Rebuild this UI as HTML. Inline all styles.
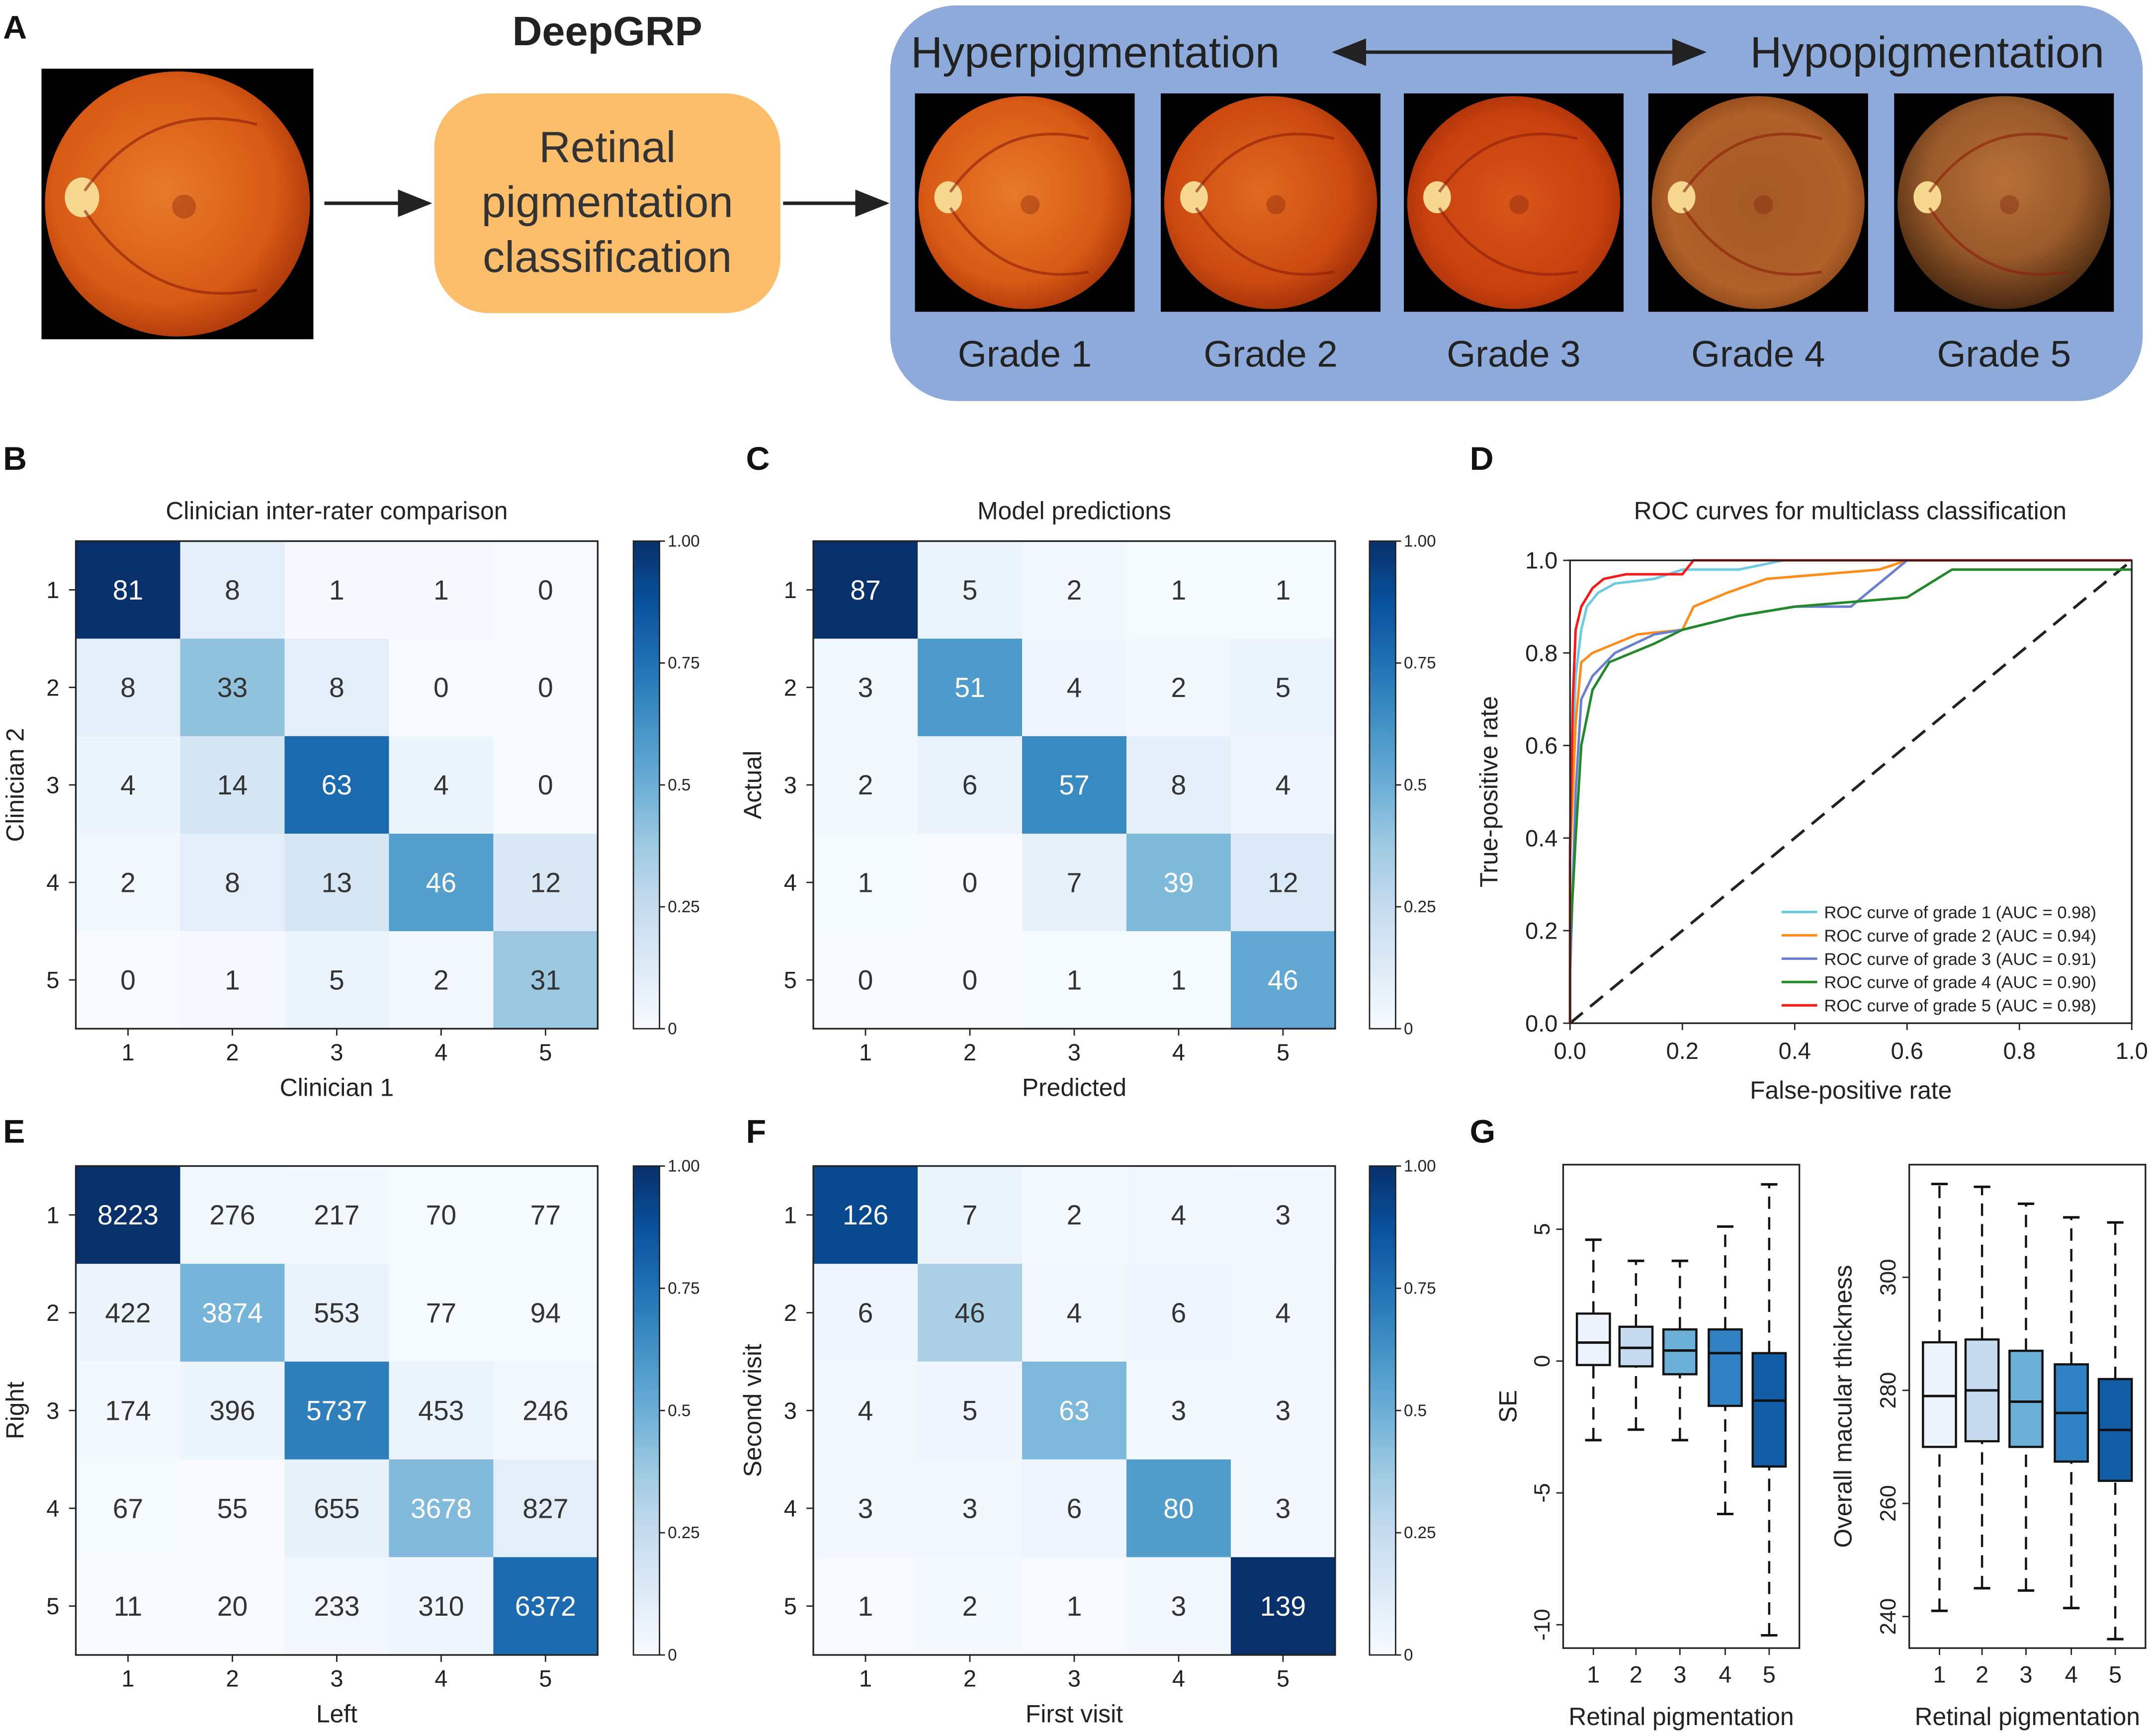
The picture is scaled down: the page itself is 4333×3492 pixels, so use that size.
<!DOCTYPE html>
<html><head><meta charset="utf-8"><style>
html,body{margin:0;padding:0;background:#fff}
svg{display:block;font-family:"Liberation Sans",Arial,sans-serif}
</style></head><body>
<svg id="fig" xmlns="http://www.w3.org/2000/svg" width="4333" height="3492" viewBox="0 0 1568 1264">
<defs>
<linearGradient id="cbar" x1="0" y1="1" x2="0" y2="0">
<stop offset="0" stop-color="#f7fbff"/><stop offset="0.125" stop-color="#deebf7"/><stop offset="0.25" stop-color="#c6dbef"/><stop offset="0.375" stop-color="#9ecae1"/><stop offset="0.5" stop-color="#6baed6"/><stop offset="0.625" stop-color="#4292c6"/><stop offset="0.75" stop-color="#2171b5"/><stop offset="0.875" stop-color="#08519c"/><stop offset="1" stop-color="#08306b"/>
</linearGradient>
<radialGradient id="f1" cx="0.45" cy="0.45" r="0.6"><stop offset="0" stop-color="#e87a2a"/><stop offset="0.7" stop-color="#d85a14"/><stop offset="1" stop-color="#a8340a"/></radialGradient>
<radialGradient id="f2" cx="0.45" cy="0.45" r="0.6"><stop offset="0" stop-color="#e06a20"/><stop offset="0.7" stop-color="#cc4a10"/><stop offset="1" stop-color="#9a2c08"/></radialGradient>
<radialGradient id="f3" cx="0.5" cy="0.5" r="0.6"><stop offset="0" stop-color="#d8561a"/><stop offset="0.7" stop-color="#c8400e"/><stop offset="1" stop-color="#962a08"/></radialGradient>
<radialGradient id="f4" cx="0.5" cy="0.5" r="0.6"><stop offset="0" stop-color="#a65a26"/><stop offset="0.7" stop-color="#b06028"/><stop offset="1" stop-color="#7a3a12"/></radialGradient>
<radialGradient id="f5" cx="0.5" cy="0.4" r="0.6"><stop offset="0" stop-color="#b87038"/><stop offset="0.6" stop-color="#9a5a2a"/><stop offset="1" stop-color="#4a2a12"/></radialGradient>
<marker id="ah" markerWidth="10" markerHeight="10" refX="9" refY="5" orient="auto"><path d="M0,1 L10,5 L0,9 z" fill="#222"/></marker>
<marker id="ahs" markerWidth="10" markerHeight="10" refX="1" refY="5" orient="auto"><path d="M10,1 L0,5 L10,9 z" fill="#222"/></marker>
</defs>
<g id="root"></g>
</svg>
<script>
// ---------- data ----------
const gradeLabels = ["1","2","3","4","5"];
const matB = [[81,8,1,1,0],[8,33,8,0,0],[4,14,63,4,0],[2,8,13,46,12],[0,1,5,2,31]];
const matC = [[87,5,2,1,1],[3,51,4,2,5],[2,6,57,8,4],[1,0,7,39,12],[0,0,1,1,46]];
const matE = [[8223,276,217,70,77],[422,3874,553,77,94],[174,396,5737,453,246],[67,55,655,3678,827],[11,20,233,310,6372]];
const matF = [[126,7,2,4,3],[6,46,4,6,4],[4,5,63,3,3],[3,3,6,80,3],[1,2,1,3,139]];
const cbTicks = [0,0.25,0.5,0.75,1.0];
const cbTickLabels = ["0","0.25","0.5","0.75","1.00"];
const rocTicks = [0,0.2,0.4,0.6,0.8,1.0];
const rocNames = ["ROC curve of grade 1 (AUC = 0.98)","ROC curve of grade 2 (AUC = 0.94)","ROC curve of grade 3 (AUC = 0.91)","ROC curve of grade 4 (AUC = 0.90)","ROC curve of grade 5 (AUC = 0.98)"];
const roc1 = [[0,0],[0,0.35],[0.005,0.6],[0.01,0.75],[0.02,0.85],[0.03,0.9],[0.05,0.93],[0.08,0.95],[0.15,0.96],[0.2,0.98],[0.3,0.98],[0.38,1.0],[1,1]];
const roc2 = [[0,0],[0,0.35],[0.01,0.65],[0.02,0.78],[0.04,0.8],[0.08,0.82],[0.12,0.84],[0.2,0.85],[0.22,0.9],[0.28,0.93],[0.35,0.96],[0.45,0.97],[0.55,0.98],[0.6,1.0],[1,1]];
const roc3 = [[0,0],[0,0.1],[0.01,0.5],[0.02,0.7],[0.04,0.75],[0.08,0.8],[0.15,0.84],[0.2,0.85],[0.3,0.88],[0.4,0.9],[0.5,0.9],[0.55,0.95],[0.6,1],[1,1]];
const roc4 = [[0,0],[0,0.17],[0.01,0.4],[0.02,0.6],[0.04,0.72],[0.07,0.78],[0.15,0.82],[0.2,0.85],[0.3,0.88],[0.4,0.9],[0.6,0.92],[0.68,0.98],[1,0.98]];
const roc5 = [[0,0],[0,0.38],[0.005,0.7],[0.01,0.85],[0.02,0.9],[0.04,0.94],[0.06,0.96],[0.1,0.97],[0.2,0.97],[0.22,1],[1,1]];
const seStats = [[-3.0,-0.15,0.7,1.8,4.6],[-2.6,-0.2,0.5,1.3,3.8],[-3.0,-0.5,0.4,1.2,3.8],[-5.8,-1.7,0.3,1.2,5.1],[-10.4,-4.0,-1.5,0.3,6.7]];
const seTicks = [5,0,-5,-10];
const mtStats = [[241,270,279,288.5,316.5],[245,271,280,289,316],[244.6,270,278,287,313],[241.5,267.4,276,284.6,310.6],[236,264,273,282,309.7]];
const mtTicks = [240,260,280,300];

const NS="http://www.w3.org/2000/svg";
const root=document.getElementById('root');
function el(tag,attrs,parent,text){const e=document.createElementNS(NS,tag);for(const k in attrs)e.setAttribute(k,attrs[k]);if(text!==undefined)e.textContent=text;(parent||root).appendChild(e);return e;}
const stops=[[0,[247,251,255]],[0.125,[222,235,247]],[0.25,[198,219,239]],[0.375,[158,202,225]],[0.5,[107,174,214]],[0.625,[66,146,198]],[0.75,[33,113,181]],[0.875,[8,81,156]],[1,[8,48,107]]];
function blues(t){t=Math.max(0,Math.min(1,t));for(let i=1;i<stops.length;i++){if(t<=stops[i][0]){const a=stops[i-1],b=stops[i];const f=(t-a[0])/(b[0]-a[0]);const c=a[1].map((v,j)=>Math.round(v+(b[1][j]-v)*f));return `rgb(${c})`;}}return 'rgb(8,48,107)';}

// ---------- Panel letters ----------
[["A",2,28],["B",2,342],["C",543,342],["D",1070,342],["E",2,832],["F",543,832],["G",1070,832]].forEach(p=>{
 const t=el('text',{x:p[1],y:p[2],'font-size':24,'font-weight':'bold',fill:'#111'},root,p[0]);
 
 
});

// ---------- Panel A ----------
const gA=el('g',{});


function fundus(x,y,w,h,grad,name){
 const g=el('g',{},gA);
 
 
 el('rect',{x:x,y:y,width:w,height:h,fill:'#000'},g);
 const cx=x+w/2,cy=y+h/2,r=Math.min(w,h)/2-2;
 el('circle',{cx:cx,cy:cy,r:r,fill:`url(#${grad})`},g);
 el('ellipse',{cx:cx-r*0.72,cy:cy-r*0.05,rx:r*0.13,ry:r*0.15,fill:'#f6d890'},g);
 el('circle',{cx:cx+r*0.05,cy:cy+r*0.02,r:r*0.09,fill:'rgba(120,30,10,0.35)'},g);
 el('path',{d:`M${cx-r*0.7},${cy-r*0.1} Q${cx-r*0.2},${cy-r*0.8} ${cx+r*0.6},${cy-r*0.6} M${cx-r*0.7},${cy+r*0.05} Q${cx-r*0.2},${cy+r*0.8} ${cx+r*0.6},${cy+r*0.65}`,stroke:'rgba(140,30,10,0.6)','stroke-width':2,fill:'none'},g);
}
fundus(30,50,198,197,'f1','input-fundus-image');
el('text',{x:442,y:33,'font-size':30,'font-weight':'bold','text-anchor':'middle',fill:'#222'},gA,'DeepGRP');
const ob=el('rect',{x:316,y:68,width:252,height:160,rx:40,fill:'#fdbe6b'},gA);


["Retinal","pigmentation","classification"].forEach((s,i)=>el('text',{x:442,y:118+i*40,'font-size':32,'text-anchor':'middle',fill:'#333'},gA,s));
el('line',{x1:236,y1:148,x2:312,y2:148,stroke:'#222','stroke-width':2.5,'marker-end':'url(#ah)'},gA);
el('line',{x1:570,y1:148,x2:645,y2:148,stroke:'#222','stroke-width':2.5,'marker-end':'url(#ah)'},gA);
const bp=el('rect',{x:648,y:4,width:912,height:288,rx:48,fill:'#8eaadb'},gA);


el('text',{x:663,y:49,'font-size':32,fill:'#222'},gA,'Hyperpigmentation');
el('text',{x:1532,y:49,'font-size':32,fill:'#222','text-anchor':'end'},gA,'Hypopigmentation');
el('line',{x1:972,y1:38,x2:1240,y2:38,stroke:'#222','stroke-width':2.5,'marker-end':'url(#ah)','marker-start':'url(#ahs)'},gA);
const gx=[666,845,1022,1200,1379],gn=["Grade 1","Grade 2","Grade 3","Grade 4","Grade  5"];
gx.forEach((x,i)=>{fundus(x,68,160,159,'f'+(i+1),'grade-'+(i+1)+'-image');
 el('text',{x:x+80,y:267,'font-size':27,'text-anchor':'middle',fill:'#222'},gA,gn[i]);});

// ---------- Confusion matrices ----------
function cm(mat,vmax,x0,y0,x1,y1,title,xl,yl,cbx,name){
 const g=el('g',{});
 
 
 const n=mat.length,cw=(x1-x0)/n,ch=(y1-y0)/n;
 if(title)el('text',{x:(x0+x1)/2,y:y0-16,'font-size':18,'text-anchor':'middle',fill:'#222'},g,title);
 mat.forEach((row,i)=>row.forEach((v,j)=>{
  const t=v/vmax;
  const r=el('rect',{x:x0+j*cw,y:y0+i*ch,width:cw+0.5,height:ch+0.5,fill:blues(t)},g);
  
  
  el('text',{x:x0+(j+0.5)*cw,y:y0+(i+0.5)*ch+7,'font-size':20,'text-anchor':'middle',fill:t>0.43?'#fff':'#333'},g,String(v));
 }));
 el('rect',{x:x0,y:y0,width:x1-x0,height:y1-y0,fill:'none',stroke:'#222','stroke-width':1.2},g);
 gradeLabels.forEach((s,k)=>{
  const cx=x0+(k+0.5)*cw,cy=y0+(k+0.5)*ch;
  el('line',{x1:cx,y1:y1,x2:cx,y2:y1+5,stroke:'#222'},g);
  el('text',{x:cx,y:y1+23,'font-size':17,'text-anchor':'middle',fill:'#222'},g,s);
  el('line',{x1:x0-5,y1:cy,x2:x0,y2:cy,stroke:'#222'},g);
  el('text',{x:x0-12,y:cy+6,'font-size':17,'text-anchor':'end',fill:'#222'},g,s);
 });
 el('text',{x:(x0+x1)/2,y:y1+49,'font-size':18,'text-anchor':'middle',fill:'#222'},g,xl);
 el('text',{x:0,y:0,'font-size':18,'text-anchor':'middle',fill:'#222',transform:`translate(${x0-38},${(y0+y1)/2}) rotate(-90)`},g,yl);
 const cb=el('rect',{x:cbx,y:y0,width:19,height:y1-y0,fill:'url(#cbar)',stroke:'#222','stroke-width':1},g);
 
 
 cbTicks.forEach((t,k)=>{const y=y1-t*(y1-y0);
  el('line',{x1:cbx+19,y1:y,x2:cbx+23,y2:y,stroke:'#222'},g);
  el('text',{x:cbx+25,y:y+4,'font-size':12,fill:'#222'},g,cbTickLabels[k]);});
}
const maxOf=m=>Math.max(...m.flat());
cm(matB,maxOf(matB),55,394,435,749,'Clinician inter-rater comparison','Clinician 1','Clinician 2',461,'panel-b-matrix');
cm(matC,maxOf(matC),592,394,972,749,'Model predictions','Predicted','Actual',997,'panel-c-matrix');
cm(matE,maxOf(matE),55,849,435,1205,'','Left','Right',461,'panel-e-matrix');
cm(matF,maxOf(matF),592,849,972,1205,'','First visit','Second visit',997,'panel-f-matrix');

// ---------- ROC ----------
(function(){
 const g=el('g',{});
 
 
 const X0=1143,X1=1552,Y0=745,Y1=408;
 const sx=v=>X0+v*(X1-X0), sy=v=>Y0-v*(Y0-Y1);
 el('text',{x:1347,y:378,'font-size':18,'text-anchor':'middle',fill:'#222'},g,'ROC curves for multiclass classification');
 el('line',{x1:sx(0),y1:sy(0),x2:sx(1),y2:sy(1),stroke:'#222','stroke-width':2,'stroke-dasharray':'12,7'},g);
 const series=[roc1,roc2,roc3,roc4,roc5],cols=['#6ccbe0','#ff8c1a','#6a7fd0','#22882a','#f21c1c'];
 series.forEach((s,i)=>{const p=el('polyline',{points:s.map(q=>sx(q[0])+','+sy(q[1])).join(' '),fill:'none',stroke:cols[i],'stroke-width':1.8},g);
  
  });
 el('rect',{x:X0,y:Y1,width:X1-X0,height:Y0-Y1,fill:'none',stroke:'#222','stroke-width':1.2},g);
 rocTicks.forEach(t=>{
  el('line',{x1:sx(t),y1:Y0,x2:sx(t),y2:Y0+5,stroke:'#222'},g);
  el('text',{x:sx(t),y:Y0+26,'font-size':17,'text-anchor':'middle',fill:'#222'},g,t.toFixed(1));
  el('line',{x1:X0-5,y1:sy(t),x2:X0,y2:sy(t),stroke:'#222'},g);
  el('text',{x:X0-9,y:sy(t)+6,'font-size':17,'text-anchor':'end',fill:'#222'},g,t.toFixed(1));
 });
 el('text',{x:(X0+X1)/2,y:800,'font-size':18,'text-anchor':'middle',fill:'#222'},g,'False-positive rate');
 el('text',{x:0,y:0,'font-size':18,'text-anchor':'middle',fill:'#222',transform:`translate(1090,${(Y0+Y1)/2}) rotate(-90)`},g,'True-positive rate');
 const lg=el('g',{},g);
 
 
 rocNames.forEach((nm,i)=>{const y=664+i*17;
  el('line',{x1:1297,y1:y,x2:1323,y2:y,stroke:cols[i],'stroke-width':1.8},lg);
  el('text',{x:1328,y:y+4.5,'font-size':12.5,fill:'#222'},lg,nm);});
})();

// ---------- Boxplots ----------
function boxes(stats,ticks,vLo,yLo,vHi,yHi,x0,x1,yTop,yBot,xs,ylab,name,ylabX){
 const g=el('g',{});
 
 
 const sy=v=>yLo+(v-vLo)*(yHi-yLo)/(vHi-vLo);
 const cols=['#eef4fb','#c6dbef','#6baed6','#3182c4','#115ea6'];
 stats.forEach((s,i)=>{const x=xs[i];
  el('line',{x1:x,y1:sy(s[0]),x2:x,y2:sy(s[1]),stroke:'#111','stroke-width':1.6,'stroke-dasharray':'9,6'},g);
  el('line',{x1:x,y1:sy(s[3]),x2:x,y2:sy(s[4]),stroke:'#111','stroke-width':1.6,'stroke-dasharray':'9,6'},g);
  el('line',{x1:x-6,y1:sy(s[0]),x2:x+6,y2:sy(s[0]),stroke:'#111','stroke-width':1.8},g);
  el('line',{x1:x-6,y1:sy(s[4]),x2:x+6,y2:sy(s[4]),stroke:'#111','stroke-width':1.8},g);
  const b=el('rect',{x:x-12,y:sy(s[3]),width:24,height:sy(s[1])-sy(s[3]),fill:cols[i],stroke:'#111','stroke-width':1.6},g);
  
  
  el('line',{x1:x-12,y1:sy(s[2]),x2:x+12,y2:sy(s[2]),stroke:'#111','stroke-width':1.8},g);
  el('line',{x1:x,y1:yBot,x2:x,y2:yBot+5,stroke:'#222'},g);
  el('text',{x:x,y:yBot+25,'font-size':17,'text-anchor':'middle',fill:'#222'},g,gradeLabels[i]);
 });
 el('rect',{x:x0,y:yTop,width:x1-x0,height:yBot-yTop,fill:'none',stroke:'#222','stroke-width':1.2},g);
 ticks.forEach(t=>{const y=sy(t);
  el('line',{x1:x0-5,y1:y,x2:x0,y2:y,stroke:'#222'},g);
  el('text',{x:0,y:0,'font-size':16,'text-anchor':'middle',fill:'#222',transform:`translate(${x0-10},${y}) rotate(-90)`},g,String(t));});
 el('text',{x:(x0+x1)/2,y:yBot+56,'font-size':18,'text-anchor':'middle',fill:'#222'},g,'Retinal pigmentation');
 el('text',{x:0,y:0,'font-size':18,'text-anchor':'middle',fill:'#222',transform:`translate(${ylabX},${(yTop+yBot)/2}) rotate(-90)`},g,ylab);
}
boxes(seStats,seTicks,0,991,5,895,1138,1310,848,1200,[1160,1191,1223,1256,1288],'SE','panel-g-se-boxplot',1104);
boxes(mtStats,mtTicks,240,1177,300,930,1390,1562,848,1200,[1412,1443,1475,1508,1540],'Overall macular thickness','panel-g-thickness-boxplot',1348);
</script>
</body></html>
